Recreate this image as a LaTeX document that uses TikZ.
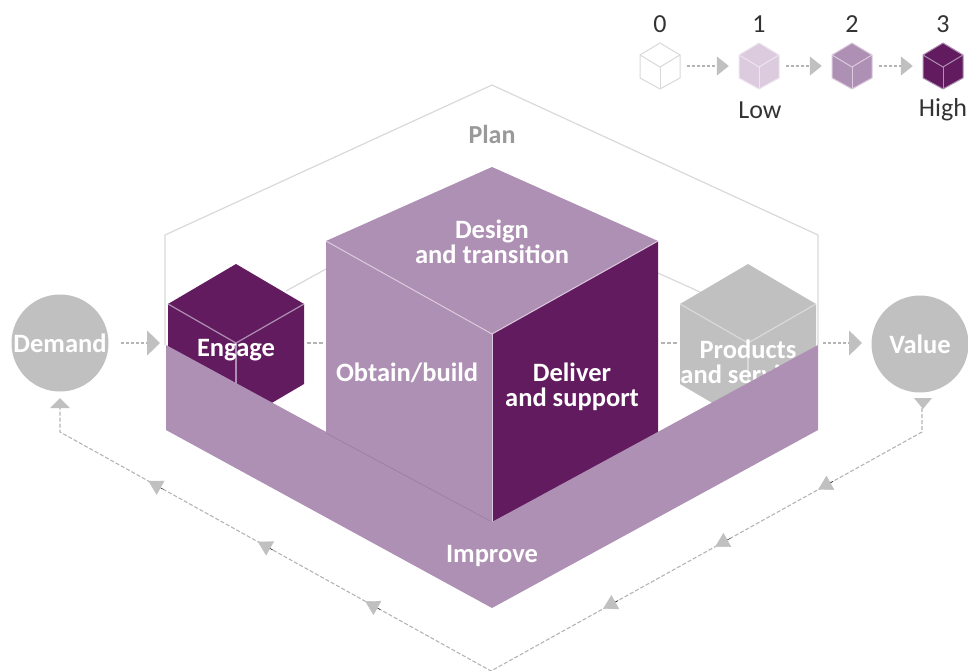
\documentclass[tikz,border=0pt]{standalone}
\usepackage{fontspec}
\setmainfont{Carlito}
\usepackage{color}
\usetikzlibrary{positioning}
\usetikzlibrary{calc}
\usetikzlibrary{arrows.meta}
\definecolor{darkplum}{HTML}{621B5E}
\definecolor{midplum}{HTML}{AE90B4}
\definecolor{paleplum}{HTML}{DCCBDE}
\definecolor{cubegray}{HTML}{C0C0C0}
\definecolor{dashgray}{HTML}{B4B4B4}
\definecolor{plangray}{HTML}{D9D9D9}
\tikzset{
  facetext/.style={text=white,align=center,font=\fontsize{26.5}{25}\selectfont\bfseries,inner sep=0pt},
  keytext/.style={text=black!80,font=\fontsize{26}{24}\selectfont,inner sep=0pt},
  planline/.style={draw=plangray,line width=1.2pt,line join=round},
  flow/.style={draw=dashgray,line width=1.3pt,dash pattern=on 3pt off 2pt,-{Triangle[length=13pt,width=25pt,color=cubegray]}},
  loopline/.style={draw=dashgray,line width=1.1pt,dash pattern=on 4pt off 2pt},
  looptip/.style={draw=none,-{Triangle[length=14pt,width=16pt,color=cubegray]}},
  keynode/.style={circle,minimum size=50pt,inner sep=0pt},
  outcome/.style={circle,fill=cubegray,minimum size=97pt,facetext}
}
\begin{document}
\begin{tikzpicture}[x=1pt,y=-1pt]
\useasboundingbox (0,0) rectangle (968,671);

% plan outline
\draw [planline] (165,345) -- (165,235) -- (492,85) -- (818,235) -- (818,345);
\draw [planline] (286,291) -- (326,269);
\draw [planline] (658,273) -- (700,292);
\node (plan) at (492,134) [text=black!40,font=\fontsize{26}{24}\selectfont\bfseries,inner sep=0pt] {Plan};

% small cubes
\foreach \cx/\cf/\cl in {236/darkplum/midplum, 748/cubegray/plangray} {
\fill [\cf] (\cx,264) -- (\cx+68,304) -- (\cx+68,384) -- (\cx,424) -- (\cx-68,384) -- (\cx-68,304) -- cycle;
\draw [\cl,line width=1.2pt] (\cx-68,304) -- (\cx,343) -- (\cx+68,304);
\draw [\cl,line width=1.2pt] (\cx,343) -- (\cx,390);
}
\node (engage) at (236,350) [facetext] {Engage};
\node (products) at (748,362) [facetext] {Products\\and services};

% big cube
\fill [midplum] (492,167) -- (658,241) -- (492,334) -- (326,241) -- cycle;
\fill [midplum] (326,241) -- (492,334) -- (492,522) -- (326,433) -- cycle;
\fill [darkplum] (492,334) -- (658,241) -- (658,436) -- (492,522) -- cycle;
\draw [paleplum,line width=1pt] (326,241) -- (492,334) -- (658,241);
\draw [paleplum,line width=0.6pt] (492,334) -- (492,522);

% improve
\fill [midplum] (166,345) -- (492,522) -- (818,345) -- (818,430) -- (492,608) -- (166,430) -- cycle;
\draw [midplum!85!black,line width=0.5pt] (326,433) -- (492,522);

\node (design) at (492,242) [facetext] {Design\\and transition};
\node (obtain) at (407,373) [facetext] {Obtain/build};
\node (deliver) at (572,387) [facetext] {Deliver\\and support};
\node (improve) at (492,556) [facetext] {Improve};

% demand and value
\node (demand) at (60,343) [outcome] {Demand};
\node (value) at (920,344) [outcome] {Value};
\coordinate (engagein) at (160,343);
\coordinate (valuein) at (862,343);
\coordinate (productsout) at (823,343);
\draw [flow,shorten <=12pt] (demand) -- (engagein);
\draw [flow] (productsout) -- (valuein);
\coordinate (engageout) at (307,343);
\coordinate (cubein) at (323,343);
\coordinate (cubeout) at (661,343);
\coordinate (productsin) at (677,343);
\draw [loopline] (engageout) -- (cubein);
\draw [loopline] (cubeout) -- (productsin);

% feedback loop
\coordinate (valuedown) at (922,408);
\coordinate (valuecorner) at (922,432);
\coordinate (loopbottom) at (491,671);
\coordinate (demandcorner) at (60,432);
\coordinate (demanddown) at (60,408);
\draw [loopline] (valuedown) -- (valuecorner) -- (loopbottom) -- (demandcorner) -- (demanddown);
\fill [cubegray] (914,398) -- (932,398) -- (923,409) -- cycle;
\fill [cubegray] (60,398) -- (70,408) -- (50,408) -- cycle;
\foreach \t in {0.206, 0.445, 0.705} {
\path [looptip,draw] ($(valuecorner)!\t!(loopbottom)$) -- ($(valuecorner)!\t+0.035!(loopbottom)$);
}
\foreach \t in {0.257, 0.506, 0.76} {
\path [looptip,draw] ($(loopbottom)!\t!(demandcorner)$) -- ($(loopbottom)!\t+0.035!(demandcorner)$);
}

% maturity key
\foreach \i/\x/\c/\l/\n in {0/660/white/plangray/0, 1/759/paleplum/paleplum!50!white/1, 2/852/midplum/paleplum/2, 3/943/darkplum/midplum/3} {
\node (key\i) at (\x,66) [keynode] {};
\node (num\i) at (\x,24) [keytext] {\n};
\filldraw [fill=\c,draw=\l,line width=1pt,line join=round] (\x,43) -- (\x+20,55) -- (\x+20,78) -- (\x,89) -- (\x-20,78) -- (\x-20,55) -- cycle;
\draw [\l,line width=1pt] (\x-20,55) -- (\x,67) -- (\x+20,55);
\draw [\l,line width=1pt] (\x,67) -- (\x,89);
}
\foreach \a/\b in {0/1, 1/2, 2/3} {
\draw [flow,shorten <=2pt,shorten >=5pt,-{Triangle[length=12pt,width=19pt,color=cubegray]}] (key\a) -- (key\b);
}
\node (low) at (760,110) [keytext] {Low};
\node (high) at (943,110) [keytext] {High};
\end{tikzpicture}
\end{document}
